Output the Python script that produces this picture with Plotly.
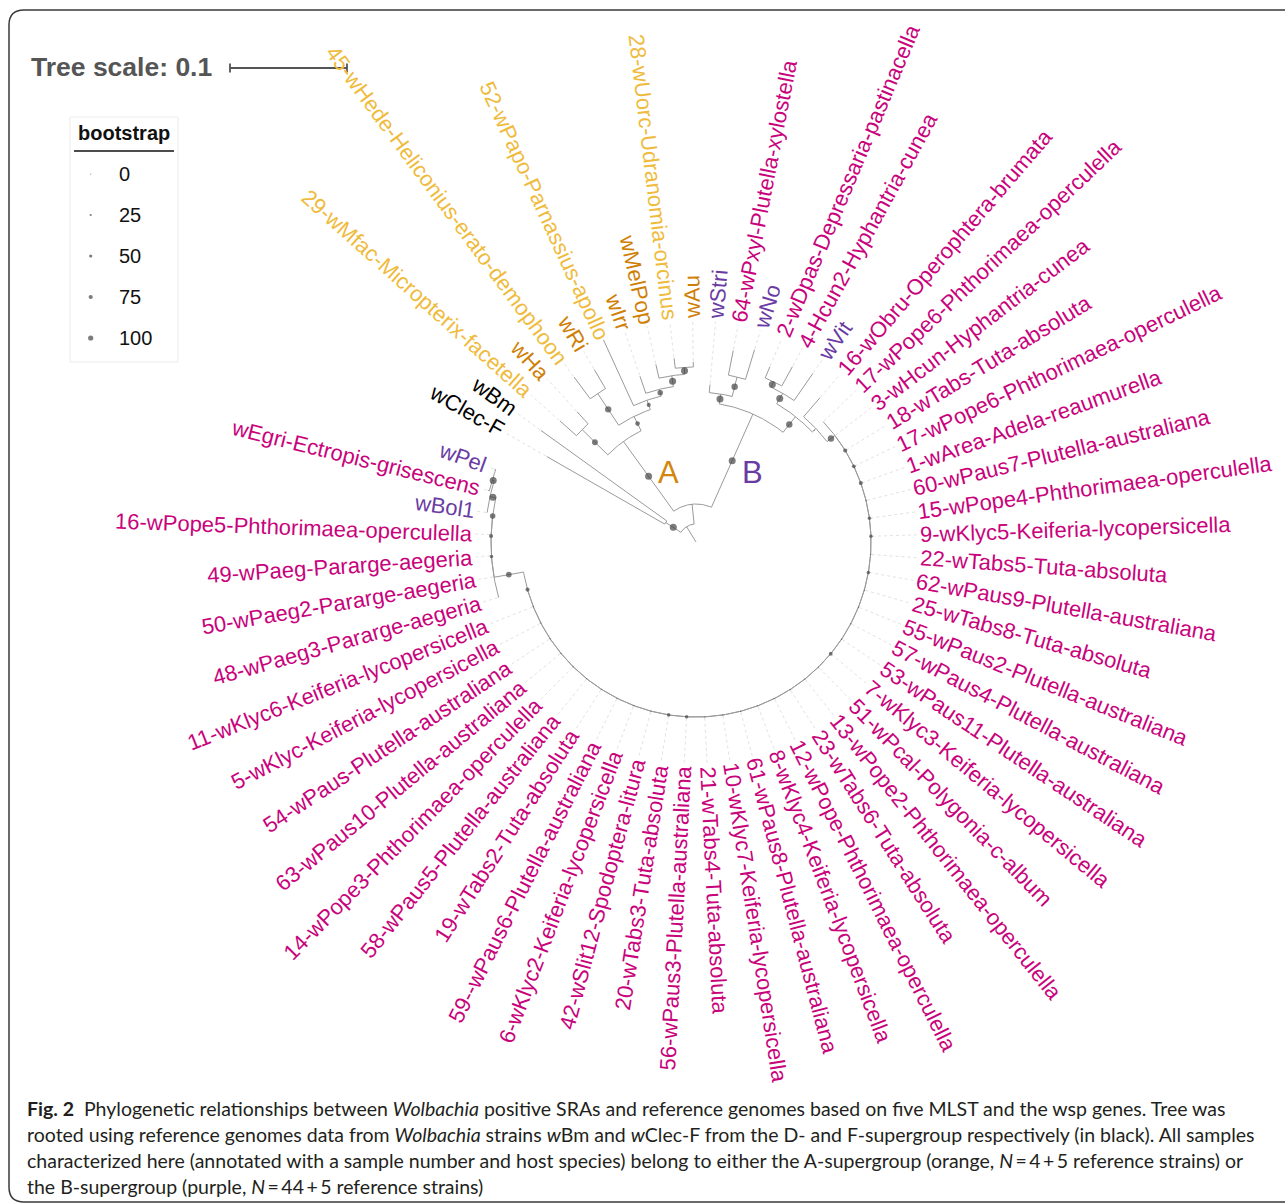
import math
import numpy as np
import plotly.graph_objects as go

# ------------------------------------------------------------------
# Tree data (branch lengths in substitutions/site, internal labels = bootstrap)
# ------------------------------------------------------------------
ROOT_STEM = 0.0154
AB_STEM = 0.0171

OUTGROUP_NWK = "(wClec-F:0.1162,wBm:0.1325)100:0.0154"

A_NWK = ("((29-wMfac-Micropterix-facetella:0.0188,wHa:0.0137)80:0.0308,"
         "((45-wHede-Heliconius-erato-demophoon:0.0231,wRi:0.0188)90:0.0325,"
         "(52-wPapo-Parnassius-apollo:0.0615,(wIrr:0.0154,(wMelPop:0.012,"
         "(28-wUorc-Udranomia-orcinus:0.0085,wAu:0.0043)100:0.006)100:0.0094)75:0.006)"
         "50:0.0085)60:0.0137)100:0.0735")

B_NWK = ("((wStri:0.0068,(64-wPxyl-Plutella-xylostella:0.0214,wNo:0.0265)90:0.0171)100:0.0085,"
         "(((2-wDpas-Depressaria-pastinacella:0.0103,4-Hcun2-Hyphantria-cunea:0.0188)100:0.0051,"
         "wVit:0.0282)100:0.0103,(16-wObru-Operophtera-brumata:0.0214,@BIG)0:0.0043)90:0.0171)"
         "100:0.0872")

# Ladder of near-identical B-supergroup samples (each node = (leaf, rest))
BIG_LEAVES = [
    "17-wPope6-Phthorimaea-operculella", "3-wHcun-Hyphantria-cunea", "18-wTabs-Tuta-absoluta",
    "17-wPope6-Phthorimaea-operculella", "1-wArea-Adela-reaumurella", "60-wPaus7-Plutella-australiana",
    "15-wPope4-Phthorimaea-operculella", "9-wKlyc5-Keiferia-lycopersicella", "22-wTabs5-Tuta-absoluta",
    "62-wPaus9-Plutella-australiana", "25-wTabs8-Tuta-absoluta", "55-wPaus2-Plutella-australiana",
    "57-wPaus4-Plutella-australiana", "53-wPaus11-Plutella-australiana", "7-wKlyc3-Keiferia-lycopersicella",
    "51-wPcal-Polygonia-c-album", "13-wPope2-Phthorimaea-operculella", "23-wTabs6-Tuta-absoluta",
    "12-wPope-Phthorimaea-operculella", "8-wKlyc4-Keiferia-lycopersicella", "61-wPaus8-Plutella-australiana",
    "10-wKlyc7-Keiferia-lycopersicella", "21-wTabs4-Tuta-absoluta", "56-wPaus3-Plutella-australiana",
    "20-wTabs3-Tuta-absoluta", "42-wSlit12-Spodoptera-litura", "6-wKlyc2-Keiferia-lycopersicella",
    "59--wPaus6-Plutella-australiana", "19-wTabs2-Tuta-absoluta", "58-wPaus5-Plutella-australiana",
    "14-wPope3-Phthorimaea-operculella", "63-wPaus10-Plutella-australiana", "54-wPaus-Plutella-australiana",
    "5-wKlyc-Keiferia-lycopersicella", "11-wKlyc6-Keiferia-lycopersicella",
]
BIG_SUPPORT = [90, 50, 45, 50, 0, 40, 40, 0, 40, 0, 0, 0, 0, 45, 0, 0, 0, 0,
               0, 0, 0, 0, 40, 40, 0, 0, 0, 0, 0, 0, 0, 0, 0, 0, 50]
BIG_STEM = 0.0085

L_LEAVES = ["48-wPaeg3-Pararge-aegeria", "50-wPaeg2-Pararge-aegeria", "49-wPaeg-Pararge-aegeria",
            "16-wPope5-Phthorimaea-operculella", "wBol1", "wEgri-Ectropis-grisescens"]
L_TAIL = "wPel"
L_SUPPORT = [75, 40, 50, 75, 100, 100]
L_NODE_BL = [0.0256, 0.0, 0.0, 0.0, 0.0051, 0.0017]
L_LEAF_BL = [0.0, 0.0, 0.0, 0.0, 0.0, 0.001]
L_TAIL_BL = 0.001

# Label colour groups
OUTGROUP = ["wBm", "wClec-F"]
A_REFS = ["wHa", "wRi", "wIrr", "wMelPop", "wAu"]
A_SAMPLES = ["29-wMfac-Micropterix-facetella", "45-wHede-Heliconius-erato-demophoon",
             "52-wPapo-Parnassius-apollo", "28-wUorc-Udranomia-orcinus"]
B_REFS = ["wStri", "wNo", "wVit", "wPel", "wBol1"]

LEGEND_VALUES = [0, 25, 50, 75, 100]
SCALE_LENGTH = 0.1

CAPTION_LINES = [
    "<b>Fig. 2</b>  Phylogenetic relationships between <i>Wolbachia</i> positive SRAs and reference "
    "genomes based on five MLST and the wsp genes. Tree was",
    "rooted using reference genomes data from <i>Wolbachia</i> strains <i>w</i>Bm and <i>w</i>Clec-F "
    "from the D- and F-supergroup respectively (in black). All samples",
    "characterized here (annotated with a sample number and host species) belong to either the "
    "A-supergroup (orange, <i>N</i>\u2009=\u20094\u2009+\u20095 reference strains) or",
    "the B-supergroup (purple, <i>N</i>\u2009=\u200944\u2009+\u20095 reference strains)",
]

# ------------------------------------------------------------------
# Geometry / style
# ------------------------------------------------------------------
W_PX, H_PX = 1285, 1204
CX, CY = 696.0, 542.0          # tree centre
PX_PER_UNIT = 1170.0           # 0.1 substitutions = 117 px
ANGLE_START = 150.2            # angle of the first leaf (degrees, counter-clockwise)
ARC_SPAN = 356.0               # angular extent used by the leaves
R_LABEL = 224.0
LABEL_SIZE = 22
LABEL_FONT = "Liberation Sans, Arial, sans-serif"

MAGENTA = "#c8037c"
PURPLE = "#6a3ca3"
ORANGE = "#cf7f06"
YELLOW = "#efbb3c"
BLACK = "#000000"
LINE_COL = "#9a9a9a"
DOT_COL = "#444444"


def parse_newick(s):
    pos = 0

    def node():
        nonlocal pos
        n = {"children": [], "name": "", "bl": 0.0, "support": None}
        if s[pos] == "(":
            pos += 1
            while True:
                n["children"].append(node())
                if s[pos] == ",":
                    pos += 1
                    continue
                if s[pos] == ")":
                    pos += 1
                    break
        start = pos
        while pos < len(s) and s[pos] not in ",():;":
            pos += 1
        label = s[start:pos].strip()
        if pos < len(s) and s[pos] == ":":
            pos += 1
            start = pos
            while pos < len(s) and s[pos] not in ",();":
                pos += 1
            n["bl"] = float(s[start:pos])
        if n["children"]:
            n["support"] = float(label) if label else None
        else:
            n["name"] = label
        return n

    return node()


def leaf(name, bl):
    return {"children": [], "name": name, "bl": bl, "support": None}


def ladder(names, supports, node_bls, leaf_bls, tail):
    cur = tail
    for nm, sup, nbl, lbl in reversed(list(zip(names, supports, node_bls, leaf_bls))):
        cur = {"children": [leaf(nm, lbl), cur], "name": "", "bl": nbl, "support": sup}
    return cur


def substitute(n, key, sub):
    for i, c in enumerate(n["children"]):
        if not c["children"] and c["name"] == key:
            n["children"][i] = sub
        else:
            substitute(c, key, sub)


tree = parse_newick("(" + OUTGROUP_NWK + ",(" + A_NWK + "," + B_NWK + "):" + str(AB_STEM) + "):"
                    + str(ROOT_STEM))
l_clade = ladder(L_LEAVES, L_SUPPORT, L_NODE_BL, L_LEAF_BL, leaf(L_TAIL, L_TAIL_BL))
big = ladder(BIG_LEAVES, BIG_SUPPORT, [BIG_STEM] + [0.0] * (len(BIG_LEAVES) - 1),
             [0.0] * len(BIG_LEAVES), l_clade)
substitute(tree, "@BIG", big)

leaves = []


def layout(n, parent_depth):
    n["r0"] = parent_depth * PX_PER_UNIT
    depth = parent_depth + n["bl"]
    n["r"] = depth * PX_PER_UNIT
    if not n["children"]:
        n["theta"] = 0.0
        leaves.append(n)
    for c in n["children"]:
        layout(c, depth)


layout(tree, 0.0)
step = ARC_SPAN / len(leaves)
for i, lf in enumerate(leaves):
    lf["theta"] = ANGLE_START - step * i


def set_angles(n):
    if n["children"]:
        for c in n["children"]:
            set_angles(c)
        n["theta"] = 0.5 * (n["children"][0]["theta"] + n["children"][-1]["theta"])


set_angles(tree)


def pol(r, th):
    t = math.radians(th)
    return CX + r * math.cos(t), CY - r * math.sin(t)


lx, ly = [], []
dx, dy, ds = [], [], []
gx, gy = [], []


def draw(n, is_root=False):
    # radial branch
    x0, y0 = pol(n["r0"], n["theta"])
    x1, y1 = pol(n["r"], n["theta"])
    lx.extend([x0, x1, None])
    ly.extend([y0, y1, None])
    if n["children"]:
        a0 = n["children"][0]["theta"]
        a1 = n["children"][-1]["theta"]
        k = max(2, int(abs(a1 - a0) / 0.5) + 1)
        for a in np.linspace(a0, a1, k):
            px, py = pol(n["r"], a)
            lx.append(px)
            ly.append(py)
        lx.append(None)
        ly.append(None)
        if not is_root and n["support"] is not None:
            mx, my = pol(0.5 * (n["r0"] + n["r"]), n["theta"])
            dx.append(mx)
            dy.append(my)
            ds.append(1.2 + 5.8 * n["support"] / 100.0)
        for c in n["children"]:
            draw(c)
    else:
        gx0, gy0 = pol(n["r"] + 1, n["theta"])
        gx1, gy1 = pol(R_LABEL - 3, n["theta"])
        gx.extend([gx0, gx1, None])
        gy.extend([gy0, gy1, None])


draw(tree, is_root=True)

# Arial/Liberation Sans advance widths (1/1000 em)
GLYPH_W = {c: 556 for c in "abdeghnopqu0123456789"}
GLYPH_W.update({"c": 500, "k": 500, "s": 500, "v": 500, "x": 500, "y": 500, "z": 500,
                "f": 278, "t": 278, "i": 222, "j": 222, "l": 222, "m": 833, "r": 333, "w": 722,
                "A": 667, "B": 667, "C": 722, "D": 722, "E": 667, "F": 611, "G": 778, "H": 722,
                "I": 278, "J": 500, "K": 667, "L": 556, "M": 833, "N": 722, "O": 778, "P": 667,
                "Q": 778, "R": 722, "S": 667, "T": 611, "U": 722, "V": 667, "W": 944, "X": 667,
                "Y": 667, "Z": 611, "-": 333, " ": 278, ".": 278})


def text_width(s, size):
    return sum(GLYPH_W.get(ch, 556) for ch in s) / 1000.0 * size


def label_colour(name):
    if name in OUTGROUP:
        return BLACK
    if name in A_REFS:
        return ORANGE
    if name in A_SAMPLES:
        return YELLOW
    if name in B_REFS:
        return PURPLE
    return MAGENTA


fig = go.Figure()

fig.add_trace(go.Scatter(x=gx, y=gy, mode="lines", hoverinfo="skip",
                         line=dict(color="#e2e2e2", width=1, dash="dot")))
fig.add_trace(go.Scatter(x=lx, y=ly, mode="lines", hoverinfo="skip",
                         line=dict(color=LINE_COL, width=1)))
fig.add_trace(go.Scatter(x=dx, y=dy, mode="markers", hoverinfo="skip",
                         marker=dict(size=ds, color=DOT_COL, line=dict(width=0))))

annotations = []
for lf in leaves:
    th = lf["theta"]
    flip = math.cos(math.radians(th)) < -0.03
    ang = (180.0 - th) if flip else -th
    ang = (ang + 180.0) % 360.0 - 180.0
    w = text_width(lf["name"], LABEL_SIZE)
    px, py = pol(R_LABEL + w / 2.0, th)
    annotations.append(dict(x=px, y=py, text=lf["name"], textangle=ang, showarrow=False,
                            xanchor="center", yanchor="middle", borderpad=0,
                            font=dict(family=LABEL_FONT, size=LABEL_SIZE, color=label_colour(lf["name"]))))

# supergroup letters
annotations.append(dict(x=668, y=472, text="A", showarrow=False, xanchor="center", yanchor="middle",
                        font=dict(family=LABEL_FONT, size=31, color="#d4860b")))
annotations.append(dict(x=752, y=472, text="B", showarrow=False, xanchor="center", yanchor="middle",
                        font=dict(family=LABEL_FONT, size=31, color=PURPLE)))

# tree scale
annotations.append(dict(x=29, y=67, text="<b>Tree scale: 0.1</b>", showarrow=False, xanchor="left",
                        yanchor="middle", font=dict(family=LABEL_FONT, size=26.5, color="#555555")))
sb_x0 = 230.0
sb_x1 = sb_x0 + SCALE_LENGTH * PX_PER_UNIT
sb_y = 68.0
fig.add_trace(go.Scatter(
    x=[sb_x0, sb_x1, None, sb_x0, sb_x0, None, sb_x1, sb_x1, None, (sb_x0 + sb_x1) / 2, (sb_x0 + sb_x1) / 2],
    y=[sb_y, sb_y, None, sb_y - 4.5, sb_y + 4.5, None, sb_y - 4.5, sb_y + 4.5, None, sb_y - 1, sb_y + 1],
    mode="lines", hoverinfo="skip", line=dict(color="#555555", width=1.8)))

# bootstrap legend
shapes = []
shapes.append(dict(type="rect", x0=70, y0=117, x1=178, y1=362, line=dict(color="#ececec", width=1)))
shapes.append(dict(type="line", x0=74, y0=151, x1=174, y1=151, line=dict(color="#111111", width=1.5)))
annotations.append(dict(x=124, y=133, text="<b>bootstrap</b>", showarrow=False, xanchor="center",
                        yanchor="middle", font=dict(family=LABEL_FONT, size=20, color="#111111")))
leg_y = [174 + 41 * i for i in range(len(LEGEND_VALUES))]
fig.add_trace(go.Scatter(x=[90.7] * len(LEGEND_VALUES), y=leg_y, mode="markers", hoverinfo="skip",
                         marker=dict(size=[1.2 + 4 * v / 100.0 for v in LEGEND_VALUES], color=DOT_COL,
                                     line=dict(width=0))))
for v, yy in zip(LEGEND_VALUES, leg_y):
    annotations.append(dict(x=117, y=yy, text=str(v), showarrow=False, xanchor="left", yanchor="middle",
                            font=dict(family=LABEL_FONT, size=20, color="#111111")))

# outer frame
shapes.append(dict(type="path",
                   path="M 1300,10 L 24,10 Q 9,10 9,25 L 9,1187 Q 9,1202 24,1202 L 1300,1202",
                   line=dict(color="#3a3a3a", width=1.5)))

# caption
for i, line in enumerate(CAPTION_LINES):
    annotations.append(dict(x=25, y=1108 + 26.3 * i, text=line, showarrow=False, xanchor="left",
                            yanchor="middle", font=dict(family="Lato, sans-serif", size=19.5,
                                                        color="#231f20")))

fig.update_layout(
    width=W_PX, height=H_PX, autosize=False,
    margin=dict(l=0, r=0, t=0, b=0, pad=0),
    paper_bgcolor="white", plot_bgcolor="white",
    showlegend=False,
    xaxis=dict(range=[0, W_PX], visible=False, fixedrange=True),
    yaxis=dict(range=[H_PX, 0], visible=False, fixedrange=True),
    annotations=annotations, shapes=shapes,
)

fig.write_html("out.html")
